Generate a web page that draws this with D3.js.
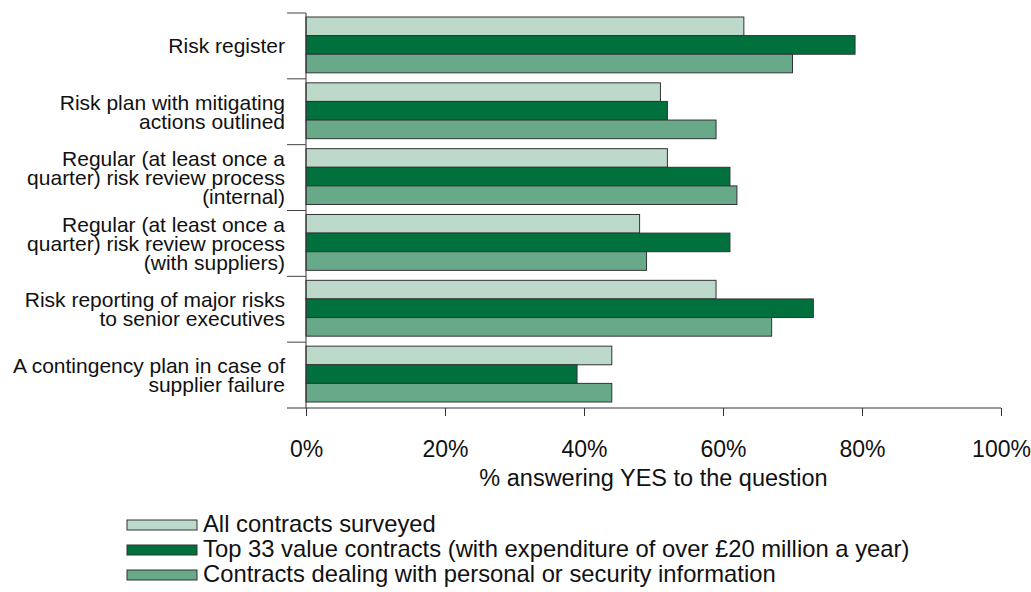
<!DOCTYPE html>
<html lang="en">
  <head>
    <title>Risk management practices</title>
    <script src="https://d3js.org/d3.v7.min.js"></script>
    <style>
      body {
        margin: 0;
        background: #fff;
      }

      text {
        font-family: "Liberation Sans", Arial, sans-serif;
        fill: #111;
      }

      .bar {
        stroke: #333;
        stroke-width: 1;
      }
    </style>
  </head>
  <body>
    <script>
      const categories = [
        ['Risk register'],
        ['Risk plan with mitigating', 'actions outlined'],
        ['Regular (at least once a', 'quarter) risk review process', '(internal)'],
        ['Regular (at least once a', 'quarter) risk review process', '(with suppliers)'],
        ['Risk reporting of major risks', 'to senior executives'],
        ['A contingency plan in case of', 'supplier failure']
      ];
      const seriesNames = [
        'All contracts surveyed',
        'Top 33 value contracts (with expenditure of over £20 million a year)',
        'Contracts dealing with personal or security information'
      ];
      const allContracts = [63, 51, 52, 48, 59, 44];
      const top33 = [79, 52, 61, 61, 73, 39];
      const personalInfo = [70, 59, 62, 49, 67, 44];
      const xTicks = [0, 20, 40, 60, 80, 100];
      const colors = ['#bdd9c9', '#00703c', '#68a98a'];

      const w = 1031;
      const h = 592;

      const series = [allContracts, top33, personalInfo];
      const ids = d3.range(categories.length);

      const xScale = d3.scaleLinear()
                       .domain([0, 100])
                       .range([306, 1001]);

      const yScale = d3.scaleBand()
                       .domain(ids)
                       .range([13, 408]);

      const innerScale = d3.scaleBand()
                           .domain(d3.range(series.length))
                           .range([4, yScale.bandwidth() - 6]);

      const svg = d3.select('body')
                    .append('svg')
                    .attr('width', w)
                    .attr('height', h);

      // bars
      const groups = svg.selectAll('g.group')
                        .data(ids)
                        .enter()
                        .append('g')
                        .attr('class', 'group')
                        .attr('transform', i => `translate(0, ${yScale(i)})`);

      groups.selectAll('rect')
            .data(i => series.map((s, k) => ({k: k, v: s[i]})))
            .enter()
            .append('rect')
             .attr('class', 'bar')
             .attr('x', xScale(0))
             .attr('y', d => innerScale(d.k))
             .attr('width', d => xScale(d.v) - xScale(0))
             .attr('height', innerScale.bandwidth())
             .attr('fill', d => colors[d.k]);

      // left axis: line with ticks at band boundaries
      const bounds = ids.map(i => yScale(i)).concat([yScale.range()[1]]);
      svg.append('line')
         .attr('x1', xScale(0)).attr('x2', xScale(0))
         .attr('y1', bounds[0]).attr('y2', bounds[bounds.length - 1])
         .attr('stroke', '#333');
      svg.selectAll('line.ytick')
         .data(bounds.slice(0, -1))
         .enter()
         .append('line')
          .attr('class', 'ytick')
          .attr('x1', xScale(0) - 19).attr('x2', xScale(0))
          .attr('y1', d => d).attr('y2', d => d)
          .attr('stroke', '#444');

      // category labels (tight line spacing, as in the source)
      const lineH = 19;
      svg.selectAll('text.cat')
         .data(ids)
         .enter()
         .append('text')
          .attr('class', 'cat')
          .attr('text-anchor', 'end')
          .style('font-size', '21px')
          .each(function(i) {
            const lines = categories[i];
            const mid = yScale(i) + yScale.bandwidth() / 2;
            const y0 = mid - (lines.length - 1) * lineH / 2 + 7.5;
            d3.select(this).selectAll('tspan')
              .data(lines)
              .enter()
              .append('tspan')
               .attr('x', 285)
               .attr('y', (d, j) => y0 + j * lineH)
               .text(d => d);
          });

      // bottom axis
      const xAxis = d3.axisBottom(xScale)
                      .tickValues(xTicks)
                      .tickFormat(d => d + '%')
                      .tickSize(8)
                      .tickPadding(25);

      const gx = svg.append('g')
                    .attr('id', 'x-axis')
                    .attr('transform', `translate(0, ${yScale.range()[1]})`)
                    .call(xAxis);
      gx.select('.domain').remove();
      gx.selectAll('.tick line').attr('stroke', '#333');
      gx.selectAll('.tick text')
        .style('font-size', '23px')
        .style('font-family', '"Liberation Sans", Arial, sans-serif')
        .attr('fill', '#111');
      gx.append('line')
        .attr('x1', xScale(0) - 19).attr('x2', xScale(100))
        .attr('y1', 0).attr('y2', 0)
        .attr('stroke', '#333');

      svg.append('text')
         .attr('x', (xScale(0) + xScale(100)) / 2)
         .attr('y', 486)
         .attr('text-anchor', 'middle')
         .style('font-size', '23.5px')
         .text('% answering YES to the question');

      // legend
      const legend = svg.selectAll('g.legend')
                        .data(seriesNames)
                        .enter()
                        .append('g')
                        .attr('class', 'legend')
                        .attr('transform', (d, k) => `translate(127, ${532 + k * 25})`);
      legend.append('rect')
            .attr('x', 0)
            .attr('y', -12)
            .attr('width', 70)
            .attr('height', 10)
            .attr('fill', (d, k) => colors[k])
            .attr('stroke', '#333');
      legend.append('text')
            .attr('x', 76)
            .attr('y', 0)
            .style('font-size', '23.8px')
            .text(d => d);
    </script>
  </body>
</html>
